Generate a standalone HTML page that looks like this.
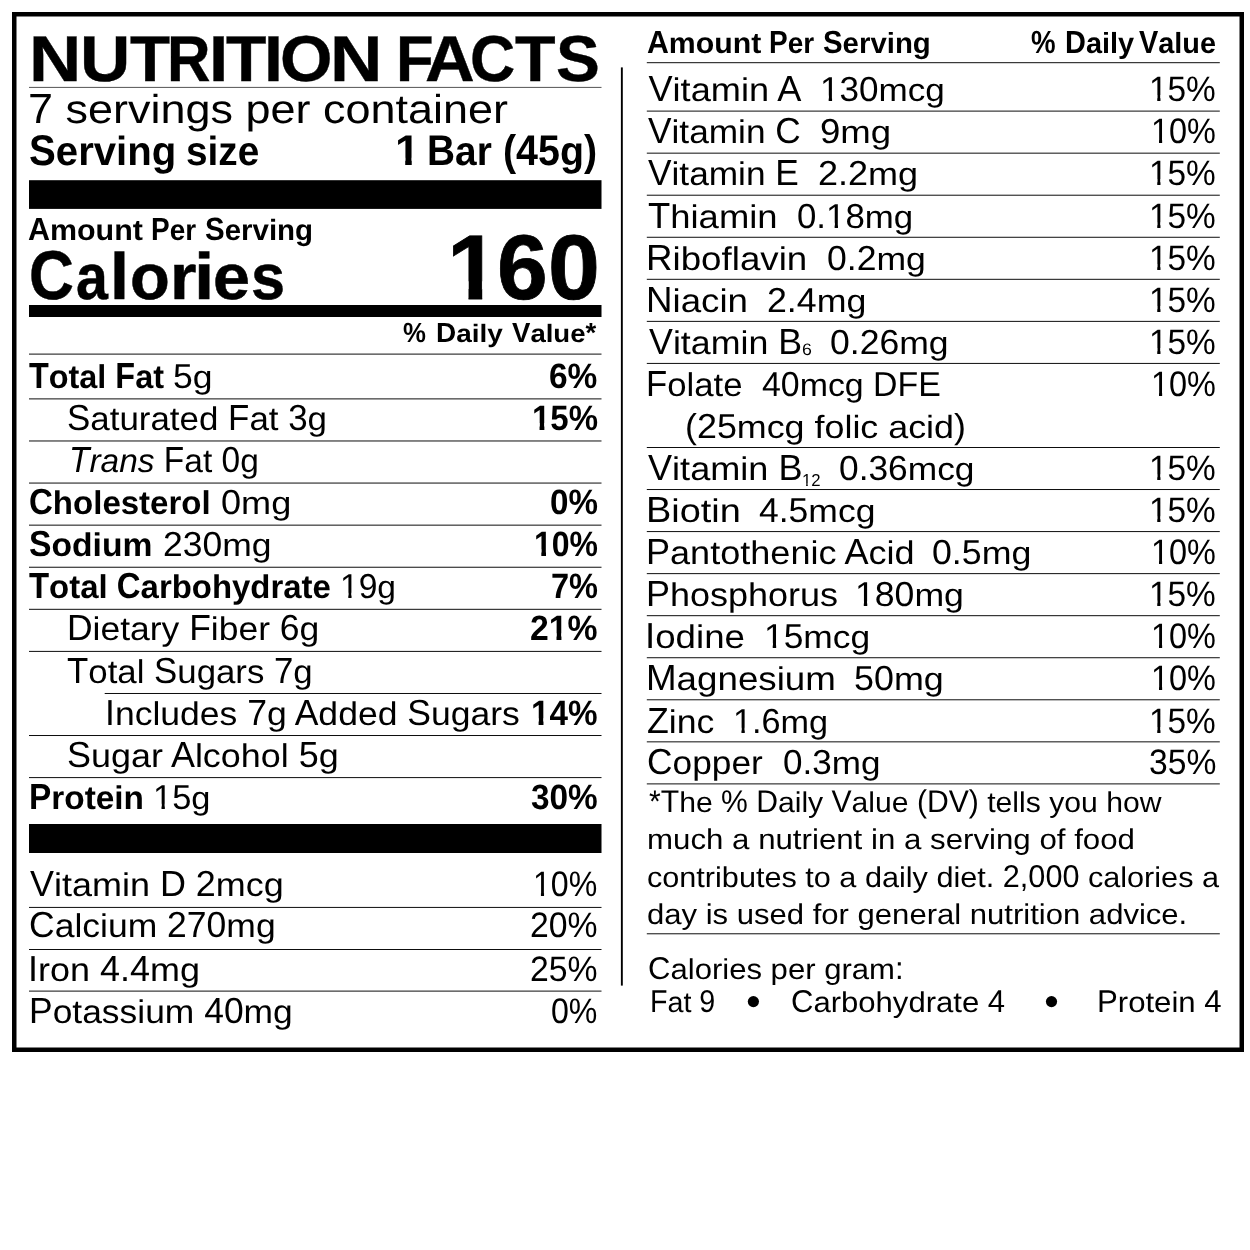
<!DOCTYPE html>
<html><head><meta charset="utf-8"><title>Nutrition Facts</title>
<style>
html,body{margin:0;padding:0;background:#fff;}
body{width:1250px;height:1250px;position:relative;overflow:hidden;font-family:"Liberation Sans",sans-serif;color:#000;}
.t{position:absolute;white-space:pre;line-height:1;transform-origin:0 0;font-weight:400;text-rendering:geometricPrecision}
.t b{font-weight:700}
.t i{font-style:italic}
.lc{display:inline-block}
.o1r{display:inline-block;clip-path:polygon(-1em -1em,2em -1em,2em .66em,.344em .66em,.344em 2em,.247em 2em,.247em .66em,-1em .66em)}
.o1b{display:inline-block;clip-path:polygon(-1em -1em,2em -1em,2em .64em,.375em .64em,.375em 2em,.229em 2em,.229em .64em,-1em .64em)}
svg{position:absolute;left:0;top:0}
#w{position:absolute;left:0;top:0;width:1250px;height:1250px;will-change:transform}
</style></head><body><div id="w">
<svg width="1250" height="1250" viewBox="0 0 1250 1250">
<rect x="14.25" y="14.25" width="1227.50" height="1035.50" fill="none" stroke="#000" stroke-width="4.50"/>
<rect x="29.00" y="86.90" width="572.50" height="1.00" fill="#555"/>
<rect x="29.00" y="180.20" width="572.50" height="28.70" fill="#000"/>
<rect x="29.00" y="305.00" width="572.50" height="12.00" fill="#000"/>
<rect x="29.00" y="353.62" width="572.50" height="0.95" fill="#000"/>
<rect x="29.00" y="398.42" width="572.50" height="0.95" fill="#000"/>
<rect x="29.00" y="440.50" width="572.50" height="0.95" fill="#000"/>
<rect x="29.00" y="482.58" width="572.50" height="0.95" fill="#000"/>
<rect x="29.00" y="524.66" width="572.50" height="0.95" fill="#000"/>
<rect x="29.00" y="566.75" width="572.50" height="0.95" fill="#000"/>
<rect x="29.00" y="608.82" width="572.50" height="0.95" fill="#000"/>
<rect x="29.00" y="650.90" width="572.50" height="0.95" fill="#000"/>
<rect x="104.70" y="692.99" width="496.80" height="0.95" fill="#000"/>
<rect x="29.00" y="735.06" width="572.50" height="0.95" fill="#000"/>
<rect x="29.00" y="777.14" width="572.50" height="0.95" fill="#000"/>
<rect x="29.00" y="824.00" width="572.50" height="29.00" fill="#000"/>
<rect x="29.00" y="906.92" width="572.50" height="0.95" fill="#000"/>
<rect x="29.00" y="949.02" width="572.50" height="0.95" fill="#000"/>
<rect x="29.00" y="990.62" width="572.50" height="0.95" fill="#000"/>
<rect x="620.90" y="67.40" width="1.90" height="918.20" fill="#000"/>
<rect x="646.80" y="62.23" width="573.00" height="0.95" fill="#000"/>
<rect x="646.80" y="110.62" width="573.00" height="0.95" fill="#000"/>
<rect x="646.80" y="152.67" width="573.00" height="0.95" fill="#000"/>
<rect x="646.80" y="194.72" width="573.00" height="0.95" fill="#000"/>
<rect x="646.80" y="236.78" width="573.00" height="0.95" fill="#000"/>
<rect x="646.80" y="278.82" width="573.00" height="0.95" fill="#000"/>
<rect x="646.80" y="320.88" width="573.00" height="0.95" fill="#000"/>
<rect x="646.80" y="362.92" width="573.00" height="0.95" fill="#000"/>
<rect x="646.80" y="447.02" width="573.00" height="0.95" fill="#000"/>
<rect x="646.80" y="489.07" width="573.00" height="0.95" fill="#000"/>
<rect x="646.80" y="531.12" width="573.00" height="0.95" fill="#000"/>
<rect x="646.80" y="573.17" width="573.00" height="0.95" fill="#000"/>
<rect x="646.80" y="615.22" width="573.00" height="0.95" fill="#000"/>
<rect x="646.80" y="657.27" width="573.00" height="0.95" fill="#000"/>
<rect x="646.80" y="699.32" width="573.00" height="0.95" fill="#000"/>
<rect x="646.80" y="741.38" width="573.00" height="0.95" fill="#000"/>
<rect x="646.80" y="783.42" width="573.00" height="0.95" fill="#000"/>
<rect x="646.80" y="933.32" width="573.00" height="0.95" fill="#000"/>
<circle cx="753.40" cy="1001.60" r="5.60" fill="#000"/>
<circle cx="1051.50" cy="1001.60" r="5.60" fill="#000"/>
</svg>
<span class="t" style="left:29.38px;top:26.80px;font-size:64.83px;-webkit-text-stroke:0.40px #000;transform:scaleX(1.1162)"><b>N</b></span>
<span class="t" style="left:79.93px;top:26.80px;font-size:64.83px;-webkit-text-stroke:0.40px #000;transform:scaleX(1.0742)"><b>U</b></span>
<span class="t" style="left:129.77px;top:26.80px;font-size:64.83px;-webkit-text-stroke:0.40px #000;transform:scaleX(1.0108)"><b>T</b></span>
<span class="t" style="left:167.16px;top:26.80px;font-size:64.83px;-webkit-text-stroke:0.40px #000;transform:scaleX(0.9287)"><b>R</b></span>
<span class="t" style="left:208.58px;top:26.80px;font-size:64.83px;-webkit-text-stroke:0.40px #000;transform:scaleX(1.0675)"><b>I</b></span>
<span class="t" style="left:226.46px;top:26.80px;font-size:64.83px;-webkit-text-stroke:0.40px #000;transform:scaleX(1.0185)"><b>T</b></span>
<span class="t" style="left:263.67px;top:26.80px;font-size:64.83px;-webkit-text-stroke:0.40px #000;transform:scaleX(1.0470)"><b>I</b></span>
<span class="t" style="left:280.14px;top:26.80px;font-size:64.83px;-webkit-text-stroke:0.40px #000;transform:scaleX(1.0406)"><b>O</b></span>
<span class="t" style="left:330.37px;top:26.80px;font-size:64.83px;-webkit-text-stroke:0.40px #000;transform:scaleX(1.1188)"><b>N</b></span>
<span class="t" style="left:396.47px;top:26.80px;font-size:64.83px;-webkit-text-stroke:0.40px #000;transform:scaleX(0.9490)"><b>F</b></span>
<span class="t" style="left:424.60px;top:26.80px;font-size:64.83px;-webkit-text-stroke:0.40px #000;transform:scaleX(1.0614)"><b>A</b></span>
<span class="t" style="left:470.33px;top:26.80px;font-size:64.83px;-webkit-text-stroke:0.40px #000;transform:scaleX(0.9650)"><b>C</b></span>
<span class="t" style="left:515.46px;top:26.80px;font-size:64.83px;-webkit-text-stroke:0.40px #000;transform:scaleX(1.0237)"><b>T</b></span>
<span class="t" style="left:555.51px;top:26.80px;font-size:64.83px;-webkit-text-stroke:0.40px #000;transform:scaleX(1.0140)"><b>S</b></span>
<span class="t" style="left:28.09px;top:88.20px;font-size:42.15px;transform:scaleX(1.0670)">7 <span class="lc" style="transform:scaleY(0.960);transform-origin:0 0.8303em">servings</span> <span class="lc" style="transform:scaleY(0.960);transform-origin:0 0.8303em">per</span> <span class="lc" style="transform:scaleY(0.960);transform-origin:0 0.8303em">container</span></span>
<span class="t" style="left:29.34px;top:130.20px;font-size:42.88px;transform:scaleX(0.9368)"><b>S<span class="lc" style="transform:scaleY(0.950);transform-origin:0 0.8163em">erving</span></b></span>
<span class="t" style="left:186.04px;top:130.20px;font-size:42.88px;transform:scaleX(0.9043)"><b><span class="lc" style="transform:scaleY(0.950);transform-origin:0 0.8163em">size</span></b></span>
<span class="t" style="left:394.75px;top:130.20px;font-size:42.88px;transform:scaleX(1.0407)"><b><span class="o1b">1</span></b></span>
<span class="t" style="left:427.10px;top:130.20px;font-size:42.88px;transform:scaleX(0.9061)"><b>B<span class="lc" style="transform:scaleY(0.950);transform-origin:0 0.8163em">ar</span></b></span>
<span class="t" style="left:503.14px;top:130.20px;font-size:42.88px;transform:scaleX(0.9187)"><b>(45<span class="lc" style="transform:scaleY(0.950);transform-origin:0 0.8163em">g</span>)</b></span>
<span class="t" style="left:28.24px;top:212.90px;font-size:32.12px;transform:scaleX(0.9475)"><b>A<span class="lc" style="transform:scaleY(0.910);transform-origin:0 0.8405em">mount</span></b></span>
<span class="t" style="left:151.33px;top:212.90px;font-size:32.12px;transform:scaleX(0.8709)"><b>P<span class="lc" style="transform:scaleY(0.910);transform-origin:0 0.8405em">er</span></b></span>
<span class="t" style="left:204.75px;top:212.90px;font-size:32.12px;transform:scaleX(0.9179)"><b>S<span class="lc" style="transform:scaleY(0.910);transform-origin:0 0.8405em">erving</span></b></span>
<span class="t" style="left:28.58px;top:240.65px;font-size:69.04px;-webkit-text-stroke:0.50px #000;transform:scaleX(0.9005)"><b>C</b></span>
<span class="t" style="left:75.54px;top:244.65px;font-size:64.20px;-webkit-text-stroke:0.50px #000;transform:scaleX(0.8926)"><b>a</b></span>
<span class="t" style="left:110.49px;top:243.65px;font-size:65.52px;-webkit-text-stroke:0.50px #000;transform:scaleX(1.0432)"><b>l</b></span>
<span class="t" style="left:130.41px;top:244.65px;font-size:64.20px;-webkit-text-stroke:0.50px #000;transform:scaleX(1.0143)"><b>o</b></span>
<span class="t" style="left:170.28px;top:244.65px;font-size:64.20px;-webkit-text-stroke:0.50px #000;transform:scaleX(1.0601)"><b>r</b></span>
<span class="t" style="left:194.07px;top:243.65px;font-size:65.52px;-webkit-text-stroke:0.50px #000;transform:scaleX(1.1170)"><b>i</b></span>
<span class="t" style="left:213.46px;top:244.65px;font-size:64.20px;-webkit-text-stroke:0.50px #000;transform:scaleX(1.0349)"><b>e</b></span>
<span class="t" style="left:250.88px;top:244.65px;font-size:64.20px;-webkit-text-stroke:0.50px #000;transform:scaleX(0.9549)"><b>s</b></span>
<span class="t" style="left:446.89px;top:222.50px;font-size:91.86px;-webkit-text-stroke:0.80px #000;transform:scaleX(1.0221)"><b><span class="o1b">1</span></b></span>
<span class="t" style="left:496.86px;top:222.50px;font-size:91.86px;-webkit-text-stroke:0.80px #000;transform:scaleX(0.9931)"><b>6</b></span>
<span class="t" style="left:547.52px;top:222.50px;font-size:91.86px;-webkit-text-stroke:0.80px #000;transform:scaleX(1.0159)"><b>0</b></span>
<span class="t" style="left:403.36px;top:318.80px;font-size:27.62px;transform:scaleX(0.9332)"><b>%</b></span>
<span class="t" style="left:435.73px;top:318.80px;font-size:27.62px;transform:scaleX(1.0122)"><b>D<span class="lc" style="transform:scaleY(0.910);transform-origin:0 0.8328em">aily</span></b></span>
<span class="t" style="left:511.81px;top:318.80px;font-size:27.62px;transform:scaleX(0.9976)"><b>V<span class="lc" style="transform:scaleY(0.910);transform-origin:0 0.8328em">alue</span>*</b></span>
<span class="t" style="left:29.34px;top:357.80px;font-size:36.19px;transform:scaleX(0.8953)"><b>T<span class="lc" style="transform:scaleY(0.910);transform-origin:0 0.8289em">otal</span> F<span class="lc" style="transform:scaleY(0.910);transform-origin:0 0.8289em">at</span></b></span>
<span class="t" style="left:173.48px;top:359.80px;font-size:34.59px;transform:scaleX(1.0271)">5<span class="lc" style="transform:scaleY(0.930);transform-origin:0 0.8094em">g</span></span>
<span class="t" style="left:549.27px;top:358.80px;font-size:35.18px;transform:scaleX(0.9521)"><b>6%</b></span>
<span class="t" style="left:67.41px;top:399.50px;font-size:36.19px;transform:scaleX(0.9649)">S<span class="lc" style="transform:scaleY(0.910);transform-origin:0 0.8289em">aturated</span> F<span class="lc" style="transform:scaleY(0.910);transform-origin:0 0.8289em">at</span> 3<span class="lc" style="transform:scaleY(0.910);transform-origin:0 0.8289em">g</span></span>
<span class="t" style="left:531.65px;top:400.50px;font-size:35.18px;transform:scaleX(0.9378)"><b><span class="o1b">1</span>5%</b></span>
<span class="t" style="left:69.19px;top:441.70px;font-size:36.19px;transform:scaleX(0.9252)"><i>T<span class="lc" style="transform:scaleY(0.910);transform-origin:0 0.8289em">rans</span></i> F<span class="lc" style="transform:scaleY(0.910);transform-origin:0 0.8289em">at</span> 0<span class="lc" style="transform:scaleY(0.910);transform-origin:0 0.8289em">g</span></span>
<span class="t" style="left:28.84px;top:483.50px;font-size:36.19px;transform:scaleX(0.9131)"><b>C<span class="lc" style="transform:scaleY(0.910);transform-origin:0 0.8289em">holesterol</span></b></span>
<span class="t" style="left:220.89px;top:485.50px;font-size:34.59px;transform:scaleX(1.0440)">0<span class="lc" style="transform:scaleY(0.930);transform-origin:0 0.8094em">mg</span></span>
<span class="t" style="left:549.69px;top:484.50px;font-size:35.18px;transform:scaleX(0.9438)"><b>0%</b></span>
<span class="t" style="left:29.23px;top:525.70px;font-size:36.19px;transform:scaleX(0.9308)"><b>S<span class="lc" style="transform:scaleY(0.910);transform-origin:0 0.8289em">odium</span></b></span>
<span class="t" style="left:162.82px;top:527.70px;font-size:34.59px;transform:scaleX(1.0257)">230<span class="lc" style="transform:scaleY(0.930);transform-origin:0 0.8094em">mg</span></span>
<span class="t" style="left:533.61px;top:526.70px;font-size:35.18px;transform:scaleX(0.9094)"><b><span class="o1b">1</span>0%</b></span>
<span class="t" style="left:29.03px;top:567.80px;font-size:36.19px;transform:scaleX(0.9102)"><b>T<span class="lc" style="transform:scaleY(0.910);transform-origin:0 0.8289em">otal</span> C<span class="lc" style="transform:scaleY(0.910);transform-origin:0 0.8289em">arbohydrate</span></b></span>
<span class="t" style="left:339.97px;top:569.80px;font-size:34.59px;transform:scaleX(0.9704)"><span class="o1r">1</span>9<span class="lc" style="transform:scaleY(0.930);transform-origin:0 0.8094em">g</span></span>
<span class="t" style="left:550.60px;top:568.80px;font-size:35.18px;transform:scaleX(0.9255)"><b>7%</b></span>
<span class="t" style="left:66.99px;top:609.70px;font-size:36.19px;transform:scaleX(0.9803)">D<span class="lc" style="transform:scaleY(0.910);transform-origin:0 0.8289em">ietary</span> F<span class="lc" style="transform:scaleY(0.910);transform-origin:0 0.8289em">iber</span> 6<span class="lc" style="transform:scaleY(0.910);transform-origin:0 0.8289em">g</span></span>
<span class="t" style="left:530.13px;top:610.70px;font-size:35.18px;transform:scaleX(0.9596)"><b>2<span class="o1b">1</span>%</b></span>
<span class="t" style="left:66.92px;top:652.60px;font-size:36.19px;transform:scaleX(0.9621)">T<span class="lc" style="transform:scaleY(0.910);transform-origin:0 0.8289em">otal</span> S<span class="lc" style="transform:scaleY(0.910);transform-origin:0 0.8289em">ugars</span> 7<span class="lc" style="transform:scaleY(0.910);transform-origin:0 0.8289em">g</span></span>
<span class="t" style="left:104.72px;top:694.75px;font-size:36.19px;transform:scaleX(0.9822)">I<span class="lc" style="transform:scaleY(0.910);transform-origin:0 0.8289em">ncludes</span> 7<span class="lc" style="transform:scaleY(0.910);transform-origin:0 0.8289em">g</span> A<span class="lc" style="transform:scaleY(0.910);transform-origin:0 0.8289em">dded</span> S<span class="lc" style="transform:scaleY(0.910);transform-origin:0 0.8289em">ugars</span></span>
<span class="t" style="left:531.13px;top:695.75px;font-size:35.18px;transform:scaleX(0.9452)"><b><span class="o1b">1</span>4%</b></span>
<span class="t" style="left:67.37px;top:736.50px;font-size:36.19px;transform:scaleX(0.9934)">S<span class="lc" style="transform:scaleY(0.910);transform-origin:0 0.8289em">ugar</span> A<span class="lc" style="transform:scaleY(0.910);transform-origin:0 0.8289em">lcohol</span> 5<span class="lc" style="transform:scaleY(0.910);transform-origin:0 0.8289em">g</span></span>
<span class="t" style="left:28.57px;top:779.00px;font-size:36.19px;transform:scaleX(0.9228)"><b>P<span class="lc" style="transform:scaleY(0.910);transform-origin:0 0.8289em">rotein</span></b></span>
<span class="t" style="left:153.49px;top:781.00px;font-size:34.59px;transform:scaleX(0.9953)"><span class="o1r">1</span>5<span class="lc" style="transform:scaleY(0.930);transform-origin:0 0.8094em">g</span></span>
<span class="t" style="left:530.93px;top:780.00px;font-size:35.18px;transform:scaleX(0.9480)"><b>30%</b></span>
<span class="t" style="left:30.14px;top:866.10px;font-size:36.19px;transform:scaleX(0.9939)">V<span class="lc" style="transform:scaleY(0.910);transform-origin:0 0.8289em">itamin</span> D 2<span class="lc" style="transform:scaleY(0.910);transform-origin:0 0.8289em">mcg</span></span>
<span class="t" style="left:532.91px;top:867.10px;font-size:35.32px;transform:scaleX(0.9087)"><span class="o1r">1</span>0%</span>
<span class="t" style="left:29.10px;top:907.40px;font-size:36.19px;transform:scaleX(0.9816)">C<span class="lc" style="transform:scaleY(0.910);transform-origin:0 0.8289em">alcium</span> 270<span class="lc" style="transform:scaleY(0.910);transform-origin:0 0.8289em">mg</span></span>
<span class="t" style="left:529.60px;top:908.40px;font-size:35.32px;transform:scaleX(0.9564)">20%</span>
<span class="t" style="left:27.98px;top:950.70px;font-size:36.19px;transform:scaleX(0.9942)">I<span class="lc" style="transform:scaleY(0.910);transform-origin:0 0.8289em">ron</span> 4.4<span class="lc" style="transform:scaleY(0.910);transform-origin:0 0.8289em">mg</span></span>
<span class="t" style="left:529.60px;top:951.70px;font-size:35.32px;transform:scaleX(0.9564)">25%</span>
<span class="t" style="left:28.79px;top:992.70px;font-size:36.19px;transform:scaleX(0.9790)">P<span class="lc" style="transform:scaleY(0.910);transform-origin:0 0.8289em">otassium</span> 40<span class="lc" style="transform:scaleY(0.910);transform-origin:0 0.8289em">mg</span></span>
<span class="t" style="left:550.75px;top:993.70px;font-size:35.32px;transform:scaleX(0.9089)">0%</span>
<span class="t" style="left:646.85px;top:25.90px;font-size:31.98px;transform:scaleX(0.9468)"><b>A<span class="lc" style="transform:scaleY(0.910);transform-origin:0 0.8443em">mount</span></b></span>
<span class="t" style="left:769.33px;top:25.90px;font-size:31.98px;transform:scaleX(0.8746)"><b>P<span class="lc" style="transform:scaleY(0.910);transform-origin:0 0.8443em">er</span></b></span>
<span class="t" style="left:822.75px;top:25.90px;font-size:31.98px;transform:scaleX(0.9194)"><b>S<span class="lc" style="transform:scaleY(0.910);transform-origin:0 0.8443em">erving</span></b></span>
<span class="t" style="left:1031.11px;top:25.90px;font-size:31.98px;transform:scaleX(0.8657)"><b>%</b></span>
<span class="t" style="left:1065.07px;top:25.90px;font-size:31.98px;transform:scaleX(0.9040)"><b>D<span class="lc" style="transform:scaleY(0.910);transform-origin:0 0.8443em">aily</span></b></span>
<span class="t" style="left:1139.40px;top:25.90px;font-size:31.98px;transform:scaleX(0.9037)"><b>V<span class="lc" style="transform:scaleY(0.910);transform-origin:0 0.8443em">alue</span></b></span>
<span class="t" style="left:648.44px;top:70.70px;font-size:36.19px">V<span class="lc" style="transform:scaleY(0.910);transform-origin:0 0.8289em">itamin</span> A</span>
<span class="t" style="left:820.42px;top:72.70px;font-size:34.59px;transform:scaleX(1.0147)"><span class="o1r">1</span>30<span class="lc" style="transform:scaleY(0.930);transform-origin:0 0.8094em">mcg</span></span>
<span class="t" style="left:1149.29px;top:71.70px;font-size:35.32px;transform:scaleX(0.9450)"><span class="o1r">1</span>5%</span>
<span class="t" style="left:648.45px;top:112.90px;font-size:36.19px;transform:scaleX(0.9743)">V<span class="lc" style="transform:scaleY(0.910);transform-origin:0 0.8289em">itamin</span> C</span>
<span class="t" style="left:820.28px;top:114.90px;font-size:34.59px;transform:scaleX(1.0579)">9<span class="lc" style="transform:scaleY(0.930);transform-origin:0 0.8094em">mg</span></span>
<span class="t" style="left:1151.18px;top:113.90px;font-size:35.32px;transform:scaleX(0.9178)"><span class="o1r">1</span>0%</span>
<span class="t" style="left:648.45px;top:154.60px;font-size:36.19px;transform:scaleX(0.9744)">V<span class="lc" style="transform:scaleY(0.910);transform-origin:0 0.8289em">itamin</span> E</span>
<span class="t" style="left:818.19px;top:156.60px;font-size:34.59px;transform:scaleX(1.0406)">2.2<span class="lc" style="transform:scaleY(0.930);transform-origin:0 0.8094em">mg</span></span>
<span class="t" style="left:1149.29px;top:155.60px;font-size:35.32px;transform:scaleX(0.9450)"><span class="o1r">1</span>5%</span>
<span class="t" style="left:648.08px;top:197.90px;font-size:36.19px;transform:scaleX(1.0071)">T<span class="lc" style="transform:scaleY(0.910);transform-origin:0 0.8289em">hiamin</span></span>
<span class="t" style="left:797.34px;top:199.90px;font-size:34.59px;transform:scaleX(1.0065)">0.<span class="o1r">1</span>8<span class="lc" style="transform:scaleY(0.930);transform-origin:0 0.8094em">mg</span></span>
<span class="t" style="left:1149.29px;top:198.90px;font-size:35.32px;transform:scaleX(0.9450)"><span class="o1r">1</span>5%</span>
<span class="t" style="left:645.89px;top:239.70px;font-size:36.19px;transform:scaleX(1.0155)">R<span class="lc" style="transform:scaleY(0.910);transform-origin:0 0.8289em">iboflavin</span></span>
<span class="t" style="left:826.81px;top:241.70px;font-size:34.59px;transform:scaleX(1.0287)">0.2<span class="lc" style="transform:scaleY(0.930);transform-origin:0 0.8094em">mg</span></span>
<span class="t" style="left:1149.29px;top:240.70px;font-size:35.32px;transform:scaleX(0.9450)"><span class="o1r">1</span>5%</span>
<span class="t" style="left:645.89px;top:281.80px;font-size:36.19px;transform:scaleX(1.0146)">N<span class="lc" style="transform:scaleY(0.910);transform-origin:0 0.8289em">iacin</span></span>
<span class="t" style="left:766.50px;top:283.80px;font-size:34.59px;transform:scaleX(1.0330)">2.4<span class="lc" style="transform:scaleY(0.930);transform-origin:0 0.8094em">mg</span></span>
<span class="t" style="left:1149.29px;top:282.80px;font-size:35.32px;transform:scaleX(0.9450)"><span class="o1r">1</span>5%</span>
<span class="t" style="left:648.74px;top:323.70px;font-size:36.19px;transform:scaleX(0.9891)">V<span class="lc" style="transform:scaleY(0.910);transform-origin:0 0.8289em">itamin</span> B</span>
<span class="t" style="left:829.91px;top:325.70px;font-size:34.59px;transform:scaleX(1.0279)">0.26<span class="lc" style="transform:scaleY(0.930);transform-origin:0 0.8094em">mg</span></span>
<span class="t" style="left:1149.29px;top:324.70px;font-size:35.32px;transform:scaleX(0.9450)"><span class="o1r">1</span>5%</span>
<span class="t" style="left:646.05px;top:366.30px;font-size:36.19px;transform:scaleX(0.9597)">F<span class="lc" style="transform:scaleY(0.910);transform-origin:0 0.8289em">olate</span></span>
<span class="t" style="left:762.12px;top:368.30px;font-size:34.59px;transform:scaleX(0.9796)">40<span class="lc" style="transform:scaleY(0.930);transform-origin:0 0.8094em">mcg</span> DFE</span>
<span class="t" style="left:1151.18px;top:367.30px;font-size:35.32px;transform:scaleX(0.9178)"><span class="o1r">1</span>0%</span>
<span class="t" style="left:648.44px;top:449.90px;font-size:36.19px;transform:scaleX(0.9976)">V<span class="lc" style="transform:scaleY(0.910);transform-origin:0 0.8289em">itamin</span> B</span>
<span class="t" style="left:839.12px;top:451.90px;font-size:34.59px;transform:scaleX(1.0212)">0.36<span class="lc" style="transform:scaleY(0.930);transform-origin:0 0.8094em">mcg</span></span>
<span class="t" style="left:1149.29px;top:450.90px;font-size:35.32px;transform:scaleX(0.9450)"><span class="o1r">1</span>5%</span>
<span class="t" style="left:646.09px;top:491.90px;font-size:36.19px;transform:scaleX(1.0484)">B<span class="lc" style="transform:scaleY(0.910);transform-origin:0 0.8289em">iotin</span></span>
<span class="t" style="left:758.99px;top:493.90px;font-size:34.59px;transform:scaleX(1.0264)">4.5<span class="lc" style="transform:scaleY(0.930);transform-origin:0 0.8094em">mcg</span></span>
<span class="t" style="left:1149.29px;top:492.90px;font-size:35.32px;transform:scaleX(0.9450)"><span class="o1r">1</span>5%</span>
<span class="t" style="left:645.64px;top:534.20px;font-size:36.19px;transform:scaleX(0.9969)">P<span class="lc" style="transform:scaleY(0.910);transform-origin:0 0.8289em">antothenic</span> A<span class="lc" style="transform:scaleY(0.910);transform-origin:0 0.8289em">cid</span></span>
<span class="t" style="left:932.00px;top:536.20px;font-size:34.59px;transform:scaleX(1.0330)">0.5<span class="lc" style="transform:scaleY(0.930);transform-origin:0 0.8094em">mg</span></span>
<span class="t" style="left:1151.18px;top:535.20px;font-size:35.32px;transform:scaleX(0.9178)"><span class="o1r">1</span>0%</span>
<span class="t" style="left:645.65px;top:576.30px;font-size:36.19px;transform:scaleX(0.9948)">P<span class="lc" style="transform:scaleY(0.910);transform-origin:0 0.8289em">hosphorus</span></span>
<span class="t" style="left:855.37px;top:578.30px;font-size:34.59px;transform:scaleX(1.0300)"><span class="o1r">1</span>80<span class="lc" style="transform:scaleY(0.930);transform-origin:0 0.8094em">mg</span></span>
<span class="t" style="left:1149.29px;top:577.30px;font-size:35.32px;transform:scaleX(0.9450)"><span class="o1r">1</span>5%</span>
<span class="t" style="left:645.21px;top:618.10px;font-size:36.19px;transform:scaleX(1.0136)">I<span class="lc" style="transform:scaleY(0.910);transform-origin:0 0.8289em">odine</span></span>
<span class="t" style="left:764.20px;top:620.10px;font-size:34.59px;transform:scaleX(1.0220)"><span class="o1r">1</span>5<span class="lc" style="transform:scaleY(0.930);transform-origin:0 0.8094em">mcg</span></span>
<span class="t" style="left:1151.18px;top:619.10px;font-size:35.32px;transform:scaleX(0.9178)"><span class="o1r">1</span>0%</span>
<span class="t" style="left:645.59px;top:659.90px;font-size:36.19px;transform:scaleX(1.0153)">M<span class="lc" style="transform:scaleY(0.910);transform-origin:0 0.8289em">agnesium</span></span>
<span class="t" style="left:853.86px;top:661.90px;font-size:34.59px;transform:scaleX(1.0374)">50<span class="lc" style="transform:scaleY(0.930);transform-origin:0 0.8094em">mg</span></span>
<span class="t" style="left:1151.18px;top:660.90px;font-size:35.32px;transform:scaleX(0.9178)"><span class="o1r">1</span>0%</span>
<span class="t" style="left:646.77px;top:702.80px;font-size:36.19px;transform:scaleX(0.9856)">Z<span class="lc" style="transform:scaleY(0.910);transform-origin:0 0.8289em">inc</span></span>
<span class="t" style="left:732.81px;top:704.80px;font-size:34.59px;transform:scaleX(0.9893)"><span class="o1r">1</span>.6<span class="lc" style="transform:scaleY(0.930);transform-origin:0 0.8094em">mg</span></span>
<span class="t" style="left:1149.29px;top:703.80px;font-size:35.32px;transform:scaleX(0.9450)"><span class="o1r">1</span>5%</span>
<span class="t" style="left:646.51px;top:744.40px;font-size:36.19px;transform:scaleX(0.9759)">C<span class="lc" style="transform:scaleY(0.910);transform-origin:0 0.8289em">opper</span></span>
<span class="t" style="left:782.53px;top:746.40px;font-size:34.59px;transform:scaleX(1.0136)">0.3<span class="lc" style="transform:scaleY(0.930);transform-origin:0 0.8094em">mg</span></span>
<span class="t" style="left:1148.72px;top:745.40px;font-size:35.32px;transform:scaleX(0.9532)">35%</span>
<span class="t" style="left:802.00px;top:341.50px;font-size:16.57px;transform:scaleX(1.0720)">6</span>
<span class="t" style="left:802.29px;top:471.90px;font-size:17.30px;transform:scaleX(0.9691)"><span class="o1r">1</span>2</span>
<span class="t" style="left:684.78px;top:409.90px;font-size:34.59px;transform:scaleX(1.0368)">(25<span class="lc" style="transform:scaleY(0.930);transform-origin:0 0.8094em">mcg</span> <span class="lc" style="transform:scaleY(0.930);transform-origin:0 0.8094em">folic</span> <span class="lc" style="transform:scaleY(0.930);transform-origin:0 0.8094em">acid</span>)</span>
<span class="t" style="left:648.81px;top:785.50px;font-size:31.40px;transform:scaleX(0.9596)">*T<span class="lc" style="transform:scaleY(0.910);transform-origin:0 0.8281em">he</span> % D<span class="lc" style="transform:scaleY(0.910);transform-origin:0 0.8281em">aily</span> V<span class="lc" style="transform:scaleY(0.910);transform-origin:0 0.8281em">alue</span> (DV) <span class="lc" style="transform:scaleY(0.910);transform-origin:0 0.8281em">tells</span> <span class="lc" style="transform:scaleY(0.910);transform-origin:0 0.8281em">you</span> <span class="lc" style="transform:scaleY(0.910);transform-origin:0 0.8281em">how</span></span>
<span class="t" style="left:646.53px;top:823.30px;font-size:31.40px;transform:scaleX(0.9949)"><span class="lc" style="transform:scaleY(0.910);transform-origin:0 0.8281em">much</span> <span class="lc" style="transform:scaleY(0.910);transform-origin:0 0.8281em">a</span> <span class="lc" style="transform:scaleY(0.910);transform-origin:0 0.8281em">nutrient</span> <span class="lc" style="transform:scaleY(0.910);transform-origin:0 0.8281em">in</span> <span class="lc" style="transform:scaleY(0.910);transform-origin:0 0.8281em">a</span> <span class="lc" style="transform:scaleY(0.910);transform-origin:0 0.8281em">serving</span> <span class="lc" style="transform:scaleY(0.910);transform-origin:0 0.8281em">of</span> <span class="lc" style="transform:scaleY(0.910);transform-origin:0 0.8281em">food</span></span>
<span class="t" style="left:647.30px;top:860.60px;font-size:31.40px;transform:scaleX(0.9754)"><span class="lc" style="transform:scaleY(0.910);transform-origin:0 0.8281em">contributes</span> <span class="lc" style="transform:scaleY(0.910);transform-origin:0 0.8281em">to</span> <span class="lc" style="transform:scaleY(0.910);transform-origin:0 0.8281em">a</span> <span class="lc" style="transform:scaleY(0.910);transform-origin:0 0.8281em">daily</span> <span class="lc" style="transform:scaleY(0.910);transform-origin:0 0.8281em">diet</span>. 2,000 <span class="lc" style="transform:scaleY(0.910);transform-origin:0 0.8281em">calories</span> <span class="lc" style="transform:scaleY(0.910);transform-origin:0 0.8281em">a</span></span>
<span class="t" style="left:647.30px;top:898.20px;font-size:31.40px;transform:scaleX(0.9889)"><span class="lc" style="transform:scaleY(0.910);transform-origin:0 0.8281em">day</span> <span class="lc" style="transform:scaleY(0.910);transform-origin:0 0.8281em">is</span> <span class="lc" style="transform:scaleY(0.910);transform-origin:0 0.8281em">used</span> <span class="lc" style="transform:scaleY(0.910);transform-origin:0 0.8281em">for</span> <span class="lc" style="transform:scaleY(0.910);transform-origin:0 0.8281em">general</span> <span class="lc" style="transform:scaleY(0.910);transform-origin:0 0.8281em">nutrition</span> <span class="lc" style="transform:scaleY(0.910);transform-origin:0 0.8281em">advice</span>.</span>
<span class="t" style="left:648.02px;top:952.60px;font-size:31.54px;transform:scaleX(0.9854)">C<span class="lc" style="transform:scaleY(0.910);transform-origin:0 0.8243em">alories</span> <span class="lc" style="transform:scaleY(0.910);transform-origin:0 0.8243em">per</span> <span class="lc" style="transform:scaleY(0.910);transform-origin:0 0.8243em">gram</span>:</span>
<span class="t" style="left:649.65px;top:985.90px;font-size:31.54px;transform:scaleX(0.9088)">F<span class="lc" style="transform:scaleY(0.910);transform-origin:0 0.8243em">at</span> 9</span>
<span class="t" style="left:791.02px;top:986.20px;font-size:31.54px;transform:scaleX(0.9849)">C<span class="lc" style="transform:scaleY(0.910);transform-origin:0 0.8243em">arbohydrate</span> 4</span>
<span class="t" style="left:1096.84px;top:986.20px;font-size:31.54px;transform:scaleX(0.9878)">P<span class="lc" style="transform:scaleY(0.910);transform-origin:0 0.8243em">rotein</span> 4</span>
</div></body></html>
